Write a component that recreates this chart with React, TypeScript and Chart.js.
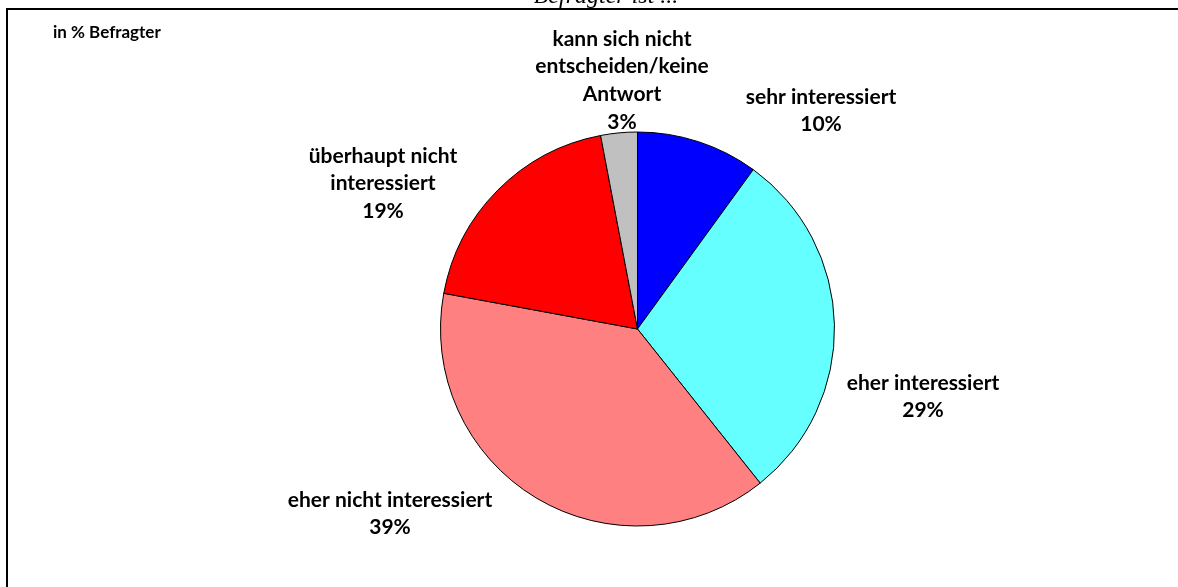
import React, { useEffect, useRef } from "react";
import { Chart, registerables } from "chart.js";

Chart.register(...registerables);

const categories = [
  "sehr interessiert",
  "eher interessiert",
  "eher nicht interessiert",
  "überhaupt nicht interessiert",
  "kann sich nicht entscheiden/keine Antwort",
];
const values = [10.0, 29.3, 38.6, 19.1, 3.0];
const percentLabels = ["10%", "29%", "39%", "19%", "3%"];
const labelLines = [
  ["sehr interessiert"],
  ["eher interessiert"],
  ["eher nicht interessiert"],
  ["überhaupt nicht", "interessiert"],
  ["kann sich nicht", "entscheiden/keine", "Antwort"],
];
const colors = ["#0000FF", "#66FFFF", "#FF8080", "#FF0000", "#C0C0C0"];
const unitNote = "in % Befragter";
const titleText = "Befragter ist ...";

// layout (label anchors: centre x, centre y of first line)
const labelAnchors: [number, number][] = [
  [821, 97],
  [923, 383],
  [390, 500],
  [383, 156],
  [622, 39],
];
const LINE_H = 27.7;
const LABEL_FONT = "bold 21px Lato, 'Open Sans', sans-serif";

const overlayPlugin = {
  id: "overlay",
  beforeDraw(chart: any) {
    const ctx = chart.ctx;
    ctx.save();
    ctx.fillStyle = "#ffffff";
    ctx.fillRect(0, 0, chart.width, chart.height);
    ctx.restore();
  },
  afterDraw(chart: any) {
    const ctx = chart.ctx;
    ctx.save();
    // frame
    ctx.strokeStyle = "#000000";
    ctx.lineWidth = 2;
    ctx.beginPath();
    ctx.moveTo(7, chart.height + 5);
    ctx.lineTo(7, 9);
    ctx.lineTo(chart.width + 5, 9);
    ctx.stroke();
    // clipped title
    ctx.fillStyle = "#000000";
    ctx.font = "italic 24px 'Liberation Serif', 'DejaVu Serif', serif";
    ctx.textAlign = "center";
    ctx.textBaseline = "alphabetic";
    ctx.fillText(titleText, 606, 3);
    // unit note
    ctx.font = "bold 17px Lato, 'Open Sans', sans-serif";
    ctx.textAlign = "left";
    ctx.textBaseline = "middle";
    ctx.fillText(unitNote, 53, 33);
    // slice labels
    ctx.font = LABEL_FONT;
    ctx.textAlign = "center";
    ctx.textBaseline = "middle";
    labelLines.forEach((lines, i) => {
      const [x, y] = labelAnchors[i];
      const all = [...lines, percentLabels[i]];
      all.forEach((t, j) => ctx.fillText(t, x, y + j * LINE_H));
    });
    ctx.restore();
  },
};

export default function App() {
  const ref = useRef<HTMLCanvasElement | null>(null);
  useEffect(() => {
    if (!ref.current) return;
    const chart = new Chart(ref.current, {
      type: "pie",
      data: {
        labels: categories,
        datasets: [
          {
            data: values,
            backgroundColor: colors,
            borderColor: "#000000",
            borderWidth: 1,
          },
        ],
      },
      options: {
        responsive: false,
        animation: false,
        events: [],
        layout: {
          padding: { left: 440, right: 343, top: 131.5, bottom: 60.5 },
        },
        plugins: {
          legend: { display: false },
          tooltip: { enabled: false },
          title: { display: false },
        },
      },
      plugins: [overlayPlugin],
    });
    return () => chart.destroy();
  }, []);
  return (
    <div style={{ position: "absolute", left: 0, top: 0, width: 1178, height: 587 }}>
      <canvas ref={ref} width={1178} height={587} style={{ display: "block", width: 1178, height: 587 }} />
    </div>
  );
}
